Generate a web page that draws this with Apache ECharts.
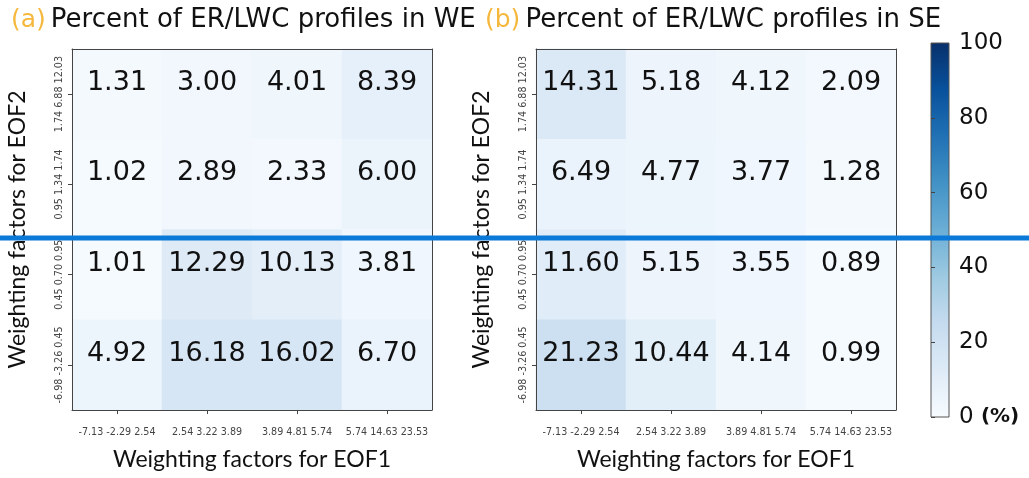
<!DOCTYPE html>
<html>
<head>
<meta charset="utf-8">
<script src="https://cdn.jsdelivr.net/npm/echarts@6/dist/echarts.min.js"></script>
<style>
  html, body { margin: 0; padding: 0; background: #fff; }
  #chart { width: 1029px; height: 478px; }
</style>
</head>
<body>
<div id="chart"></div>
<script>
// tick labels of both panels (rows listed top to bottom)
const xLabels = ['-7.13 -2.29 2.54', '2.54 3.22 3.89', '3.89 4.81 5.74', '5.74 14.63 23.53'];
const yLabels = ['1.74 6.88 12.03', '0.95 1.34 1.74', '0.45 0.70 0.95', '-6.98 -3.26 0.45'];

// percent of profiles, rows top to bottom
const weValues = [
  [1.31, 3.00, 4.01, 8.39],
  [1.02, 2.89, 2.33, 6.00],
  [1.01, 12.29, 10.13, 3.81],
  [4.92, 16.18, 16.02, 6.70]
];
const seValues = [
  [14.31, 5.18, 4.12, 2.09],
  [6.49, 4.77, 3.77, 1.28],
  [11.60, 5.15, 3.55, 0.89],
  [21.23, 10.44, 4.14, 0.99]
];

// colorbar
const cbMin = 0, cbMax = 100, cbStep = 20;
const blues = ['#f7fbff', '#deebf7', '#c6dbef', '#9ecae1', '#6baed6', '#4292c6', '#2171b5', '#08519c', '#08306b'];

function toCells(rows) {
  let out = [];
  rows.forEach((row, r) => {
    row.forEach((v, c) => out.push([c, r, v]));
  });
  return out;
}

const tickFont = { fontFamily: 'DejaVu Sans', fontSize: 9.6, color: '#444' };
const frameLine = { show: true, lineStyle: { color: '#444', width: 1 } };
const nameFont = { fontFamily: 'Lato', fontSize: 23, color: '#111' };

function panelAxes(gridIndex) {
  return {
    x: [
      {
        type: 'category', gridIndex: gridIndex, data: xLabels, position: 'bottom', z: 10,
        axisLine: frameLine,
        axisTick: { show: true, alignWithLabel: true, length: 4, lineStyle: { color: '#444' } },
        axisLabel: Object.assign({ margin: 17, interval: 0 }, tickFont),
        splitLine: { show: false },
        name: 'Weighting factors for EOF1', nameLocation: 'middle', nameGap: 38,
        nameTextStyle: nameFont
      },
      {
        type: 'category', gridIndex: gridIndex, data: xLabels, position: 'top', z: 10,
        axisLine: frameLine, axisTick: { show: false }, axisLabel: { show: false }
      }
    ],
    y: [
      {
        type: 'category', gridIndex: gridIndex, data: yLabels, inverse: true, position: 'left', z: 10,
        axisLine: frameLine,
        axisTick: { show: true, alignWithLabel: true, length: 4, lineStyle: { color: '#444' } },
        axisLabel: Object.assign({ margin: 8, rotate: 90, interval: 0 }, tickFont),
        splitLine: { show: false },
        name: 'Weighting factors for EOF2', nameLocation: 'middle', nameGap: 43,
        nameTextStyle: nameFont
      },
      {
        type: 'category', gridIndex: gridIndex, data: yLabels, inverse: true, position: 'right', z: 10,
        axisLine: frameLine, axisTick: { show: false }, axisLabel: { show: false }
      }
    ]
  };
}

const pA = panelAxes(0);
const pB = panelAxes(1);

function heatSeries(values, xi, yi) {
  return {
    type: 'heatmap',
    xAxisIndex: xi,
    yAxisIndex: yi,
    data: toCells(values),
    label: {
      show: true,
      fontFamily: 'DejaVu Sans',
      fontSize: 27,
      color: '#111',
      offset: [0, -11],
      formatter: p => p.value[2].toFixed(2)
    },
    itemStyle: { borderWidth: 0 },
    emphasis: { disabled: true }
  };
}

const titleRich = {
  a: { fontFamily: 'DejaVu Sans', fontSize: 25, color: '#f5b83d', fontWeight: 'normal' },
  t: { fontFamily: 'DejaVu Sans', fontSize: 26, color: '#111', fontWeight: 'normal' }
};

let chart = echarts.init(document.getElementById('chart'));
chart.setOption({
  animation: false,
  title: [
    { left: 6, top: 2, text: '{a|(a)} {t|Percent of ER/LWC profiles in WE}', textStyle: { fontWeight: 'normal', rich: titleRich } },
    { left: 480, top: 2, text: '{a|(b)} {t|Percent of ER/LWC profiles in SE}', textStyle: { fontWeight: 'normal', rich: titleRich } }
  ],
  grid: [
    { left: 72, top: 49, width: 360, height: 361 },
    { left: 536, top: 49, width: 360, height: 361 },
    { left: 931, top: 43, width: 18, height: 374 }
  ],
  xAxis: [].concat(pA.x, pB.x, [{ type: 'value', gridIndex: 2, show: false, min: 0, max: 1 }]),
  yAxis: [].concat(pA.y, pB.y, [{
    type: 'value', gridIndex: 2, position: 'right', min: cbMin, max: cbMax, interval: cbStep, z: 10,
    axisLine: { show: false },
    axisTick: { show: true, length: 4, lineStyle: { color: '#444' } },
    splitLine: { show: false },
    axisLabel: {
      fontFamily: 'DejaVu Sans', fontSize: 23, color: '#111', margin: 10,
      formatter: v => v === 0 ? '0 {b|(%)}' : String(v),
      rich: { b: { fontFamily: 'DejaVu Sans', fontSize: 20, fontWeight: 'bold', color: '#111' } }
    }
  }]),
  visualMap: {
    show: false,
    type: 'continuous',
    min: cbMin,
    max: cbMax,
    seriesIndex: [0, 1],
    inRange: { color: blues }
  },
  series: [
    heatSeries(weValues, 0, 0),
    heatSeries(seValues, 2, 2)
  ],
  graphic: [
    {
      // colorbar strip
      type: 'rect', z: 5,
      shape: { x: 931, y: 43, width: 18, height: 374 },
      style: {
        fill: new echarts.graphic.LinearGradient(0, 1, 0, 0,
          blues.map((c, i) => ({ offset: i / (blues.length - 1), color: c }))),
        stroke: '#555', lineWidth: 1
      }
    },
    {
      // blue marker line across the picture
      type: 'line', z: 100,
      shape: { x1: 0, y1: 238, x2: 1029, y2: 238 },
      style: { stroke: '#0a79d8', lineWidth: 5 }
    }
  ]
});
</script>
</body>
</html>
